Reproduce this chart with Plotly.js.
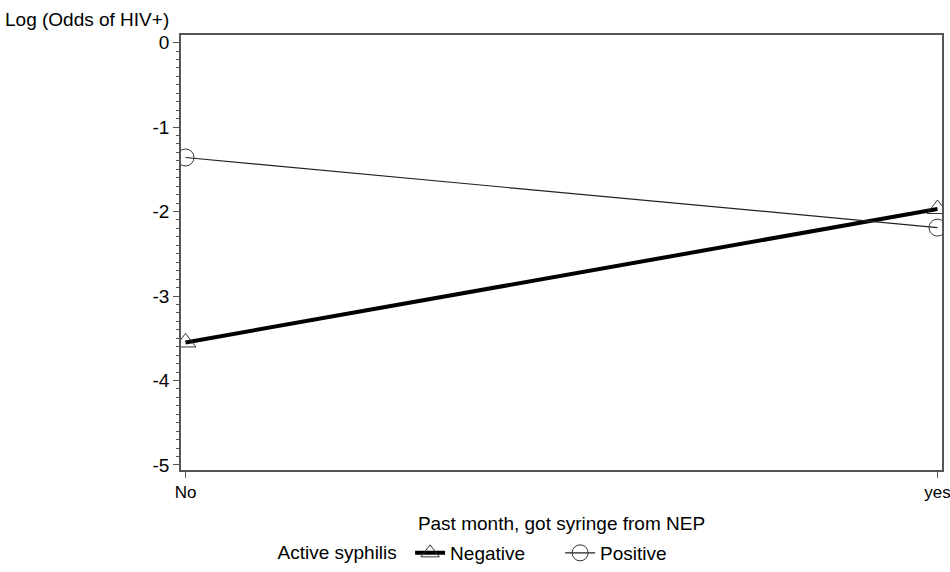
<!DOCTYPE html>
<html><head><meta charset="utf-8">
<script src="https://cdn.plot.ly/plotly-3.0.1.min.js"></script>
<style>body{margin:0;background:#fff}#c{width:950px;height:572px}</style>
</head><body><div id="c"></div>
<script>
const categories = ["No", "yes"];
const negativeVals = [-3.55, -1.97];
const positiveVals = [-1.36, -2.19];
const yTicks = [0, -1, -2, -3, -4, -5];
const yTickLabels = ["0", "-1", "-2", "-3", "-4", "-5"];

const F = "Liberation Sans, Arial, sans-serif";
const traces = [
  {x: [0, 1], y: negativeVals, name: "Negative", mode: "lines+markers",
   line: {color: "#000", width: 4},
   marker: {symbol: "triangle-up-open", size: 18, color: "#333", line: {width: 1}}},
  {x: [0, 1], y: positiveVals, name: "Positive", mode: "lines+markers",
   line: {color: "#222", width: 1.2},
   marker: {symbol: "circle-open", size: 17, color: "#333", line: {width: 1}}}
];
const layout = {
  width: 950, height: 572,
  margin: {l: 181, r: 8, t: 35, b: 102, autoexpand: false},
  paper_bgcolor: "#fff", plot_bgcolor: "#fff",
  font: {family: F, size: 19, color: "#000"},
  showlegend: true,
  legend: {orientation: "h", xref: "container", yref: "container", x: 0.29, xanchor: "left",
           y: 0.0, yanchor: "bottom", entrywidth: 105,
           title: {text: "Active syphilis ", side: "left", font: {size: 19}},
           font: {size: 19}},
  xaxis: {range: [-0.006, 1.006], tickmode: "array", tickvals: [0, 1], ticktext: categories,
          ticks: "outside", ticklen: 6, tickcolor: "#555", showgrid: false, zeroline: false,
          showline: true, linecolor: "#555", linewidth: 1.5, mirror: true,
          ticklabeloverflow: "allow",
          tickfont: {size: 17},
          title: {text: "Past month, got syringe from NEP", font: {size: 19}, standoff: 20}},
  yaxis: {range: [-5.06, 0.09], tickmode: "array", tickvals: yTicks, ticktext: yTickLabels,
          ticks: "outside", ticklen: 6, tickcolor: "#555", showgrid: false, zeroline: false,
          showline: true, linecolor: "#555", linewidth: 1.5, mirror: true,
          tickfont: {size: 19},
          minor: {dtick: 0.1, ticks: "outside", ticklen: 3, tickcolor: "#555", showgrid: false}},
  annotations: [{text: "Log (Odds of HIV+)", xref: "paper", yref: "paper", x: -0.234, y: 1.0,
                 xanchor: "left", yanchor: "bottom", yshift: 3, showarrow: false,
                 font: {size: 19, family: F}}]
};
Plotly.newPlot("c", traces, layout, {displayModeBar: false});
</script></body></html>
